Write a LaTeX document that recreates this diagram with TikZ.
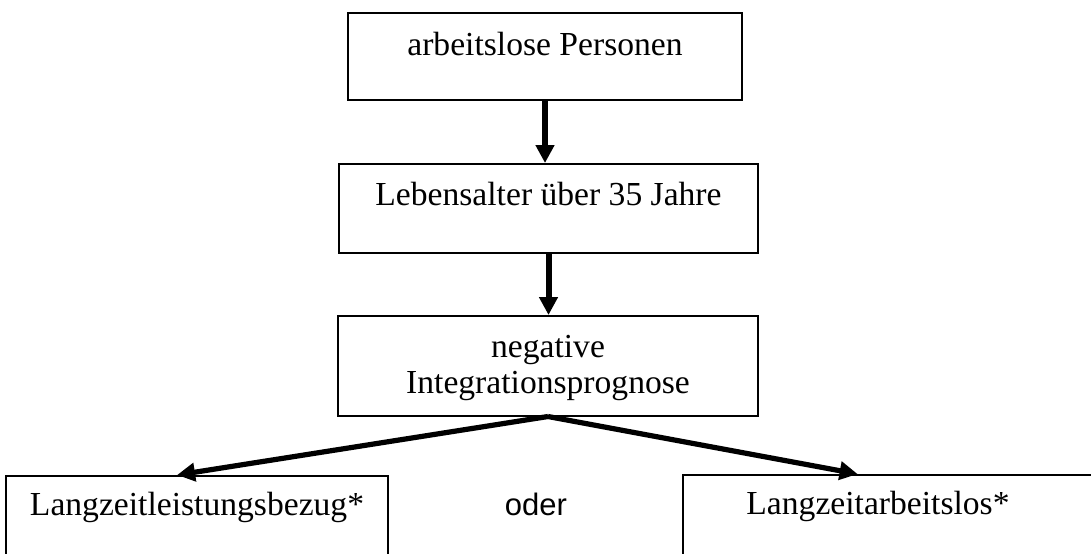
\documentclass[tikz,border=0pt]{standalone}
\usepackage{fontspec}
\setmainfont{Liberation Serif}
\newfontfamily\odersans{Liberation Sans}
\usetikzlibrary{arrows.meta, positioning, calc}

\begin{document}
\begin{tikzpicture}[x=0.5pt, y=-0.5pt,
        every node/.style={font=\fontsize{16.8}{18}\selectfont},
        kasten/.style={draw, line width=0.75pt, inner xsep=0pt, inner ysep=0pt, anchor=north, align=center},
        pfeil/.style={-{Triangle[length=9pt, width=9pt]}, line width=3pt}]
        \useasboundingbox (0,0) rectangle (1091,553);

        % Boxes
        \node[kasten, minimum width=197pt, text height=21.5pt, text depth=22pt] (pers) at (545,12) {arbeitslose Personen};
        \node[kasten, minimum width=209.5pt, text height=21pt, text depth=23.5pt] (alter) at (548.5,163) {Lebensalter über 35 Jahre};
        \node[kasten, minimum width=210pt, text height=39pt, text depth=11pt] (prog) at (548,315) {negative\\Integrationsprognose};

        % Bottom boxes
        \node[kasten, minimum width=191pt, text height=20pt, text depth=40pt] (bezug) at (197,475) {Langzeitleistungsbezug*};
        \node[kasten, minimum width=208pt, text height=20pt, text depth=40pt] (alos) at (891,474) {Langzeitarbeitslos*\hspace*{13pt}};
        \node[font=\odersans\fontsize{15.5}{18}\selectfont, anchor=base] (oder) at (536,515) {oder};

        % Arrows
        \draw[pfeil] (pers.south) -- (pers.south |- alter.north);
        \draw[pfeil] (alter.south) -- (alter.south |- prog.north);
        \draw[pfeil, line width=2.6pt] (prog.south) -- ($(bezug.north west)!0.448!(bezug.north east)$);
        \draw[pfeil, line width=2.6pt] (prog.south) -- ($(alos.north west)!0.42!(alos.north east)$);
    \end{tikzpicture}
\end{document}
